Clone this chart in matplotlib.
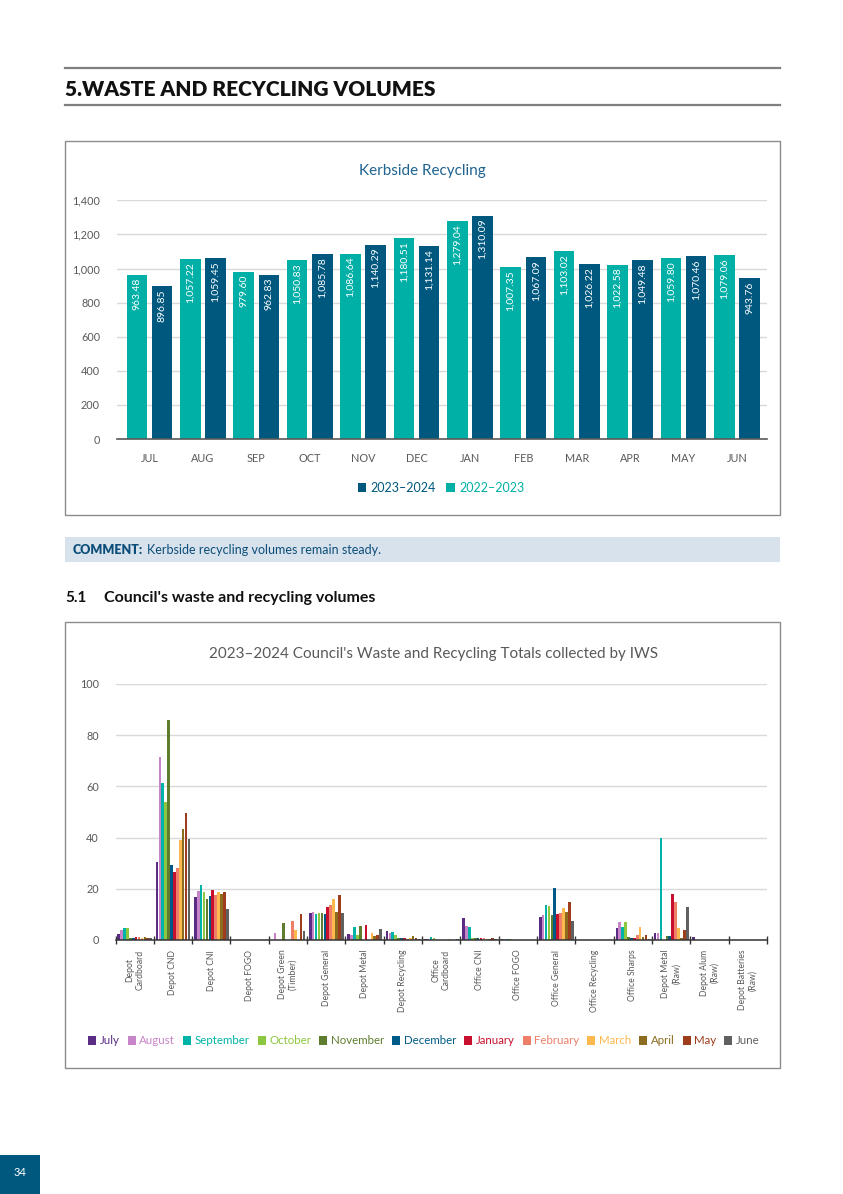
import numpy as np
import matplotlib
matplotlib.use('Agg')
import matplotlib.pyplot as plt
from matplotlib.patches import Rectangle

plt.rcParams['font.family'] = ['Lato', 'DejaVu Sans']

W, H = 843, 1194

# Kerbside recycling (tonnes)
months = ['JUL', 'AUG', 'SEP', 'OCT', 'NOV', 'DEC', 'JAN', 'FEB', 'MAR', 'APR', 'MAY', 'JUN']
kerb_2223 = [963.48, 1057.22, 979.60, 1050.83, 1086.64, 1180.51, 1279.04, 1007.35, 1103.02, 1022.58, 1059.80, 1079.06]
kerb_2324 = [896.85, 1059.45, 962.83, 1085.78, 1140.29, 1131.14, 1310.09, 1067.09, 1026.22, 1049.48, 1070.46, 943.76]

# Council's waste streams
streams = ['Depot\nCardboard', 'Depot CND', 'Depot CNI', 'Depot FOGO', 'Depot Green\n(Timber)',
           'Depot General', 'Depot Metal', 'Depot Recycling', 'Office\nCardboard', 'Office CNI',
           'Office FOGO', 'Office General', 'Office Recycling', 'Office Sharps', 'Depot Metal\n(Raw)',
           'Depot Alum\n(Raw)', 'Depot Batteries\n(Raw)']
month_names = ['July', 'August', 'September', 'October', 'November', 'December',
               'January', 'February', 'March', 'April', 'May', 'June']
july = [2.2, 30.5, 16.7, 0, 0, 10.7, 2.5, 3.4, 0.5, 8.4, 0.5, 8.8, 0, 4.5, 2.6, 1.1, 0]
august = [3.8, 71.5, 19.1, 0, 2.9, 11.1, 1.9, 2.9, 0.5, 5.5, 0.5, 9.9, 0, 6.9, 2.8, 0, 0]
september = [4.6, 61.5, 21.4, 0, 0, 10.2, 5.0, 3.0, 1.2, 5.0, 0.5, 13.8, 0, 4.9, 39.9, 0, 0]
october = [4.6, 54.0, 18.7, 0, 0, 10.6, 2.1, 2.0, 0.6, 0.7, 0.3, 13.1, 0, 7.1, 0, 0, 0]
november = [0.7, 86.0, 16.1, 0, 6.8, 10.4, 5.4, 0.7, 0.1, 0.7, 0, 9.9, 0, 1.3, 1.4, 0, 0]
december = [0.7, 29.2, 17.2, 0, 0, 10.1, 0, 0.7, 0.1, 0.9, 0, 20.3, 0, 0.9, 1.7, 0, 0]
january = [1.2, 26.6, 19.4, 0, 0, 12.9, 5.8, 0.9, 0.1, 0.9, 0, 10.2, 0, 0.9, 17.8, 0, 0]
february = [1.0, 28.2, 17.5, 0, 7.3, 13.8, 0, 0.5, 0.1, 0.7, 0, 10.6, 0, 1.9, 15.0, 0, 0]
march = [0.6, 39.0, 18.9, 0, 3.8, 16.2, 2.7, 0.9, 0.2, 0.5, 0, 12.5, 0, 4.9, 4.7, 0, 0]
april = [1.1, 43.5, 18.1, 0, 0, 11.1, 1.6, 1.6, 0.1, 0.5, 0, 11.1, 0, 1.3, 0.6, 0, 0]
may = [0.8, 49.6, 18.9, 0, 10.2, 17.7, 2.0, 0.9, 0.1, 0.6, 0, 15.0, 0, 1.9, 3.9, 0, 0]
june = [0.8, 39.6, 12.2, 0, 3.5, 10.4, 4.2, 0.4, 0.3, 0.5, 0, 7.3, 0, 0.5, 13.0, 0, 0]
monthly = [july, august, september, october, november, december,
           january, february, march, april, may, june]
month_colors = ['#5b2c83', '#c884c8', '#00b3a8', '#8dc63f', '#5e7d2e', '#005a87',
                '#c8102e', '#ef7f68', '#fdb94d', '#8c6d1f', '#9e3d1b', '#606060']

TEAL = '#00b0a6'
NAVY = '#00587f'
GREY = '#595959'


def fx(x):
    return x / W


def fy(y):
    return 1 - y / H


fig = plt.figure(figsize=(W / 100, H / 100), dpi=100)

# page furniture drawn in pixel coordinates
bg = fig.add_axes([0, 0, 1, 1])
bg.set_xlim(0, W)
bg.set_ylim(H, 0)
bg.axis('off')
bg.plot([65, 780], [68, 68], color='#7f7f7f', lw=1.6)
bg.plot([65, 780], [105, 105], color='#7f7f7f', lw=1.6)
bg.text(65, 89, '5.WASTE AND RECYCLING VOLUMES', fontsize=15, fontweight='heavy',
        color='#111111', va='center', ha='left')
bg.add_patch(Rectangle((65, 141), 715, 374, fill=False, ec='#8c8c8c', lw=1))
bg.text(422, 171, 'Kerbside Recycling', fontsize=11, color='#1f6391', ha='center', va='center')
bg.add_patch(Rectangle((65, 537), 715, 25, fc='#d7e2ec', ec='none'))
head = bg.text(73, 550, 'COMMENT:', fontsize=9, fontweight='heavy', color='#0b4d78', va='center')
fig.canvas.draw()
ext = head.get_window_extent(fig.canvas.get_renderer())
bg.text(ext.x1 + 4, 550, 'Kerbside recycling volumes remain steady.', fontsize=9,
        color='#0b4d78', va='center')
bg.text(65, 598, '5.1', fontsize=11, fontweight='bold', color='#111111', va='center')
bg.text(104, 598, "Council's waste and recycling volumes", fontsize=11.5, fontweight='bold',
        color='#111111', va='center')
bg.add_patch(Rectangle((65, 622), 715, 446, fill=False, ec='#8c8c8c', lw=1))
bg.text(434, 654, "2023\u20132024 Council's Waste and Recycling Totals collected by IWS",
        fontsize=11, color=GREY, ha='center', va='center')
bg.add_patch(Rectangle((0, 1155), 40, 39, fc=NAVY, ec='none'))
bg.text(20, 1173, '34', fontsize=8, color='white', ha='center', va='center')

# chart 1: kerbside recycling
ax1 = fig.add_axes([fx(116.7), fy(439), fx(650), 238.7 / H])
x = np.arange(len(months))
bw = 0.385
b_old = ax1.bar(x - 0.236, kerb_2223, bw, color=TEAL, label='2022\u20132023', zorder=2)
b_new = ax1.bar(x + 0.236, kerb_2324, bw, color=NAVY, label='2023\u20132024', zorder=2)
for bars, vals in [(b_old, kerb_2223), (b_new, kerb_2324)]:
    for b, v in zip(bars, vals):
        ax1.text(b.get_x() + b.get_width() / 2, v - 18, f'{v:,.2f}', rotation=90,
                 ha='center', va='top', color='white', fontsize=7.5, zorder=3)
ax1.set_xlim(-0.614, 11.558)
ax1.set_ylim(0, 1400)
ax1.set_yticks(range(0, 1401, 200))
ax1.set_yticklabels([f'{v:,}' for v in range(0, 1401, 200)])
ax1.set_xticks(x)
ax1.set_xticklabels(months)
ax1.tick_params(length=0, labelsize=7.8, labelcolor=GREY, pad=10)
ax1.tick_params(axis='y', pad=12)
ax1.grid(axis='y', color='#d9d9d9', lw=1, zorder=0)
for s in ['top', 'right', 'left']:
    ax1.spines[s].set_visible(False)
ax1.spines['bottom'].set_color('#595959')
ax1.spines['bottom'].set_linewidth(1.2)
ax1.spines['bottom'].set_zorder(4)
leg1 = fig.legend(handles=[b_new, b_old], loc='center', bbox_to_anchor=(fx(441), fy(488)),
                  ncol=2, frameon=False, fontsize=9, handlelength=0.7, handleheight=0.7,
                  handletextpad=0.35, columnspacing=0.8)
for txt, c in zip(leg1.get_texts(), [NAVY, TEAL]):
    txt.set_color(c)

# chart 2: council waste streams
ax2 = fig.add_axes([fx(115.5), fy(940), fx(651.5), 256 / H])
xs = np.arange(len(streams))
slot = 0.076
handles = []
for i, (vals, c, name) in enumerate(zip(monthly, month_colors, month_names)):
    h = ax2.bar(xs + (i - 5.5) * slot, vals, slot * 0.9, color=c, label=name, zorder=2)
    handles.append(h)
ax2.set_xlim(-0.5, len(streams) - 0.5)
ax2.set_ylim(0, 100)
ax2.set_yticks(range(0, 101, 20))
ax2.tick_params(axis='y', length=0, labelsize=7.8, labelcolor=GREY, pad=12)
ax2.set_xticks(np.arange(-0.5, len(streams), 1))
ax2.set_xticklabels([])
ax2.set_xticks(xs, minor=True)
ax2.set_xticklabels(streams, minor=True, rotation=90, fontsize=6.2, color=GREY, va='top')
for lbl in ax2.get_xticklabels(minor=True):
    lbl.set_multialignment('center')
ax2.tick_params(axis='x', which='major', direction='inout', length=6, width=1, color='#333333')
ax2.tick_params(axis='x', which='minor', length=0, pad=7)
ax2.grid(axis='y', color='#d9d9d9', lw=1, zorder=0)
for s in ['top', 'right', 'left']:
    ax2.spines[s].set_visible(False)
ax2.spines['bottom'].set_color('#333333')
ax2.spines['bottom'].set_linewidth(1.1)
ax2.spines['bottom'].set_zorder(4)
leg2 = fig.legend(handles=handles, loc='center', bbox_to_anchor=(fx(424), fy(1041)),
                  ncol=12, frameon=False, fontsize=8.3, handlelength=0.7, handleheight=0.7,
                  handletextpad=0.3, columnspacing=0.7)
for txt, c in zip(leg2.get_texts(), month_colors):
    txt.set_color(c)

fig.savefig('out.png', dpi=100)
